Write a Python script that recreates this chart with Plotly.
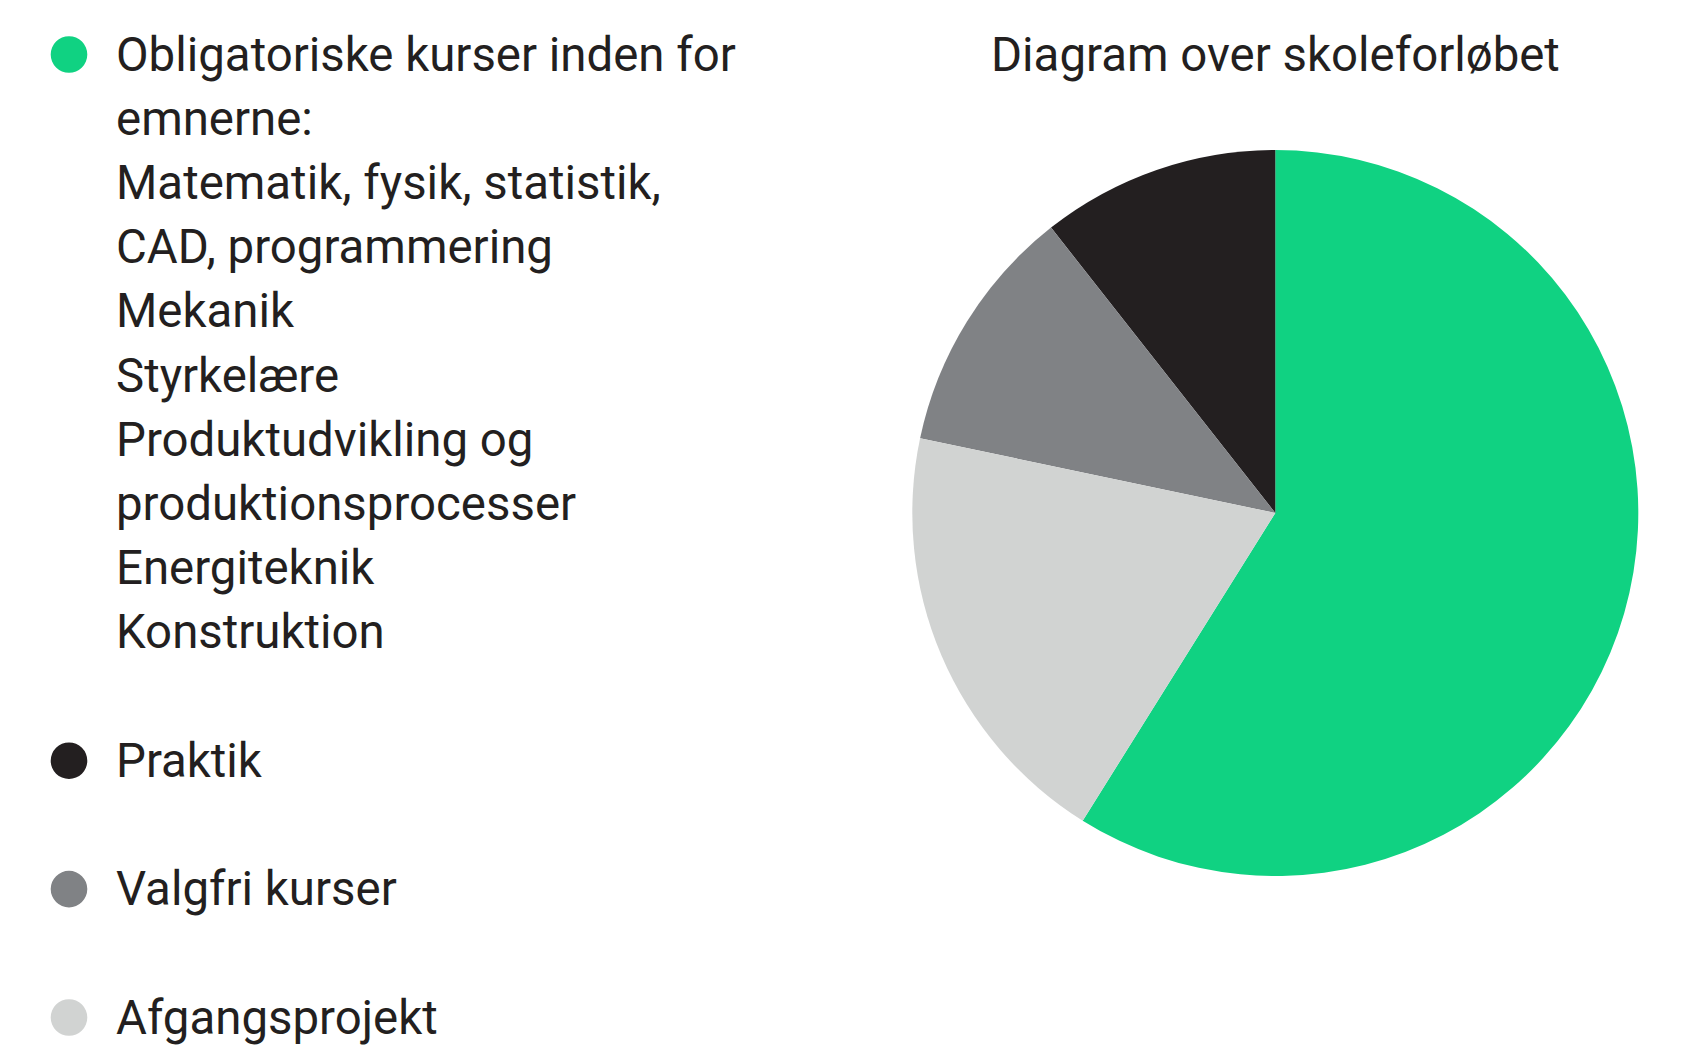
import plotly.graph_objects as go

# ---- data ----
categories = ["Obligatoriske kurser", "Praktik", "Valgfri kurser", "Afgangsprojekt"]
shares = [58.9, 10.6, 11.1, 19.4]
colors = ["#10d282", "#231f20", "#808285", "#d1d3d2"]
legend_lines = [
    ["Obligatoriske kurser inden for", "emnerne:", "Matematik, fysik, statistik,",
     "CAD, programmering", "Mekanik", "Styrkelære", "Produktudvikling og",
     "produktionsprocesser", "Energiteknik", "Konstruktion"],
    ["Praktik"],
    ["Valgfri kurser"],
    ["Afgangsprojekt"],
]
legend_rows = [0, 11, 13, 15]
title_text = "Diagram over skoleforløbet"

# ---- layout constants (pixels) ----
W, H = 1669, 1041
FONT = "Roboto, Liberation Sans, Arial, sans-serif"
FS = 47.4
TXT = "#231f20"
ROW0 = 46.5      # cap-middle y of first legend row (paper px from top)
ROW_H = 64.2
DOT_X = 61.0
DOT_R = 18.3
TEXT_X = 105.8
PIE_CX, PIE_CY, PIE_R = 1267.3, 505.0, 363.0


def px_x(x):
    return x / W


def px_y(y):
    return 1 - y / H


fig = go.Figure()
fig.add_trace(go.Pie(
    labels=categories,
    values=shares,
    marker=dict(colors=colors, line=dict(width=0)),
    sort=False,
    direction="counterclockwise",
    rotation=0,
    textinfo="none",
    showlegend=False,
    domain=dict(x=[px_x(PIE_CX - PIE_R), px_x(PIE_CX + PIE_R)],
                y=[px_y(PIE_CY + PIE_R), px_y(PIE_CY - PIE_R)]),
))

annotations = []
shapes = []
for lines, row, col in zip(legend_lines, legend_rows, colors):
    yc = ROW0 + row * ROW_H
    shapes.append(dict(type="circle", xref="paper", yref="paper",
                       xsizemode="pixel", ysizemode="pixel",
                       xanchor=px_x(DOT_X), yanchor=px_y(yc),
                       x0=-DOT_R, x1=DOT_R, y0=-DOT_R, y1=DOT_R,
                       fillcolor=col, line=dict(width=0)))
    for i, line in enumerate(lines):
        annotations.append(dict(text=line, xref="paper", yref="paper",
                                x=px_x(TEXT_X), y=px_y(yc + i * ROW_H),
                                xanchor="left", yanchor="middle",
                                showarrow=False, align="left",
                                font=dict(family=FONT, size=FS, color=TXT)))

annotations.append(dict(text=title_text, xref="paper", yref="paper",
                        x=px_x(PIE_CX), y=px_y(ROW0),
                        xanchor="center", yanchor="middle", showarrow=False,
                        font=dict(family=FONT, size=FS, color=TXT)))

fig.update_layout(
    width=W, height=H,
    margin=dict(l=0, r=0, t=0, b=0),
    paper_bgcolor="white", plot_bgcolor="white",
    annotations=annotations, shapes=shapes,
    showlegend=False,
)

fig.write_html("out.html")
